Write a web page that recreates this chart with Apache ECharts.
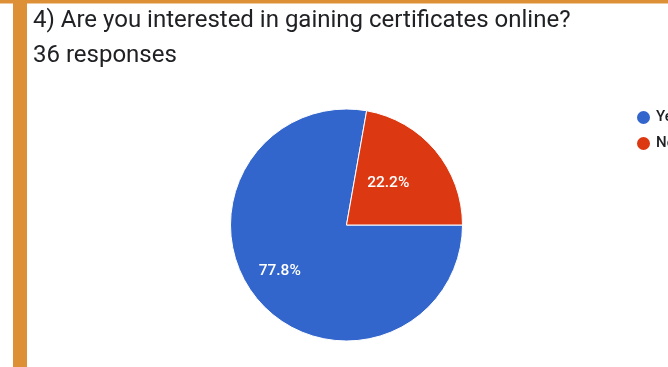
<!DOCTYPE html>
<html>
<head>
<meta charset="utf-8">
<script src="https://cdn.jsdelivr.net/npm/echarts@6/dist/echarts.min.js"></script>
<style>
  html, body { margin: 0; padding: 0; background: #fff; }
  #chart { width: 668px; height: 367px; }
</style>
</head>
<body>
<div id="chart"></div>
<script>
// Survey answers and counts (36 responses)
const categories = ['Yes', 'No'];
const counts = [28, 8];
const sliceColors = ['#3366CC', '#DC3912'];
const questionText = '4) Are you interested in gaining certificates online?';
const responsesText = '36 responses';

const chart = echarts.init(document.getElementById('chart'), null, { renderer: 'canvas' });

const total = counts.reduce((a, b) => a + b, 0);
const pieData = categories.map((name, i) => ({
  name,
  value: counts[i],
  itemStyle: { color: sliceColors[i] },
  label: i === 0 ? { offset: [-20, 7] } : { offset: [-5, -3] }
}));

const headingStyle = { fontFamily: 'Roboto', fontSize: 24, fontWeight: 'normal', color: '#202124' };

chart.setOption({
  animation: false,
  backgroundColor: '#ffffff',
  title: [
    { text: questionText, left: 28, top: 4, textStyle: headingStyle },
    { text: responsesText, left: 28, top: 39, textStyle: headingStyle }
  ],
  legend: {
    orient: 'vertical',
    left: 630, top: 104,
    icon: 'circle',
    itemWidth: 15, itemHeight: 15,
    itemGap: 9,
    textStyle: { fontFamily: 'Roboto', fontSize: 15, fontWeight: 500, color: '#202124', padding: [0, 0, 0, 0] },
    data: categories
  },
  graphic: [
    { type: 'rect', shape: { x: 0, y: 0, width: 668, height: 3.5 }, style: { fill: '#DE9036' }, z: 100 },
    { type: 'rect', shape: { x: 13, y: 0, width: 14, height: 367 }, style: { fill: '#DE9036' }, z: 100 }
  ],
  series: [{
    type: 'pie',
    center: [346.5, 225],
    radius: 116,
    startAngle: 0,
    clockwise: true,
    avoidLabelOverlap: false,
    itemStyle: { borderColor: '#ffffff', borderWidth: 1 },
    label: {
      position: 'inside',
      formatter: p => (p.value / total * 100).toFixed(1) + '%',
      color: '#ffffff',
      fontFamily: 'Roboto',
      fontWeight: 500,
      fontSize: 15.5
    },
    labelLine: { show: false },
    emphasis: { disabled: true },
    data: pieData
  }]
});
</script>
</body>
</html>
